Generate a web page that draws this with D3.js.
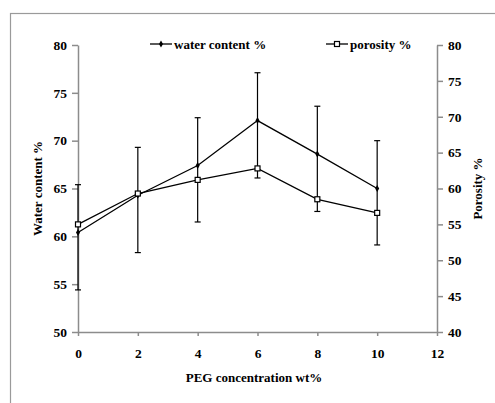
<!DOCTYPE html>
<html>
<head>
<meta charset="utf-8">
<script src="https://cdn.jsdelivr.net/npm/d3@7"></script>
<style>
body { margin: 0; background: #fff; }
text { font-family: "Liberation Serif", "Times New Roman", serif; font-weight: bold; fill: #000; }
</style>
</head>
<body>
<div id="chart"></div>
<script>
var W = 495, H = 403;
var margin = {top: 45, right: 58, bottom: 71, left: 78};
var width = W - margin.left - margin.right,
	height = H - margin.top - margin.bottom;

// data
var peg = [0, 2, 4, 6, 8, 10];
var water = [60.4, 64.3, 67.4, 72.1, 68.6, 65.0];
var waterErrUp = [5.0, 5.0, 5.0, 5.0, 5.0, 5.0];
var waterErrDown = [6.0, 6.0, 5.9, 6.0, 6.0, 5.9];
var porosity = [55.0, 59.3, 61.2, 62.8, 58.5, 56.6];

var xTicks = [0, 2, 4, 6, 8, 10, 12];
var leftTicks = [50, 55, 60, 65, 70, 75, 80];
var rightTicks = [40, 45, 50, 55, 60, 65, 70, 75, 80];

var svg = d3.select("#chart").append("svg")
	.attr("width", W)
	.attr("height", H);

// outer chart frame (runs off the right/bottom edge)
svg.append("rect")
	.attr("x", 10.5).attr("y", 13.5)
	.attr("width", 500).attr("height", 400)
	.attr("fill", "none")
	.attr("stroke", "#9a9a9a")
	.attr("stroke-width", 1.2);

var g = svg.append("g")
	.attr("transform", "translate(" + margin.left + "," + margin.top + ")");

var x = d3.scaleLinear().domain([0, 12]).range([0, width]);
var yL = d3.scaleLinear().domain([50, 80]).range([height, 0]);
var yR = d3.scaleLinear().domain([40, 80]).range([height, 0]);

function styleAxis(sel) {
	sel.selectAll("path, line").attr("stroke", "#8c8c8c").attr("stroke-width", 1.5);
	sel.selectAll("text").attr("font-size", 13.5).attr("font-family", "Liberation Serif, serif").attr("font-weight", "bold");
}

g.append("g")
	.attr("transform", "translate(0," + height + ")")
	.call(d3.axisBottom(x).tickValues(xTicks).tickSize(4).tickSizeOuter(0).tickPadding(12))
	.call(styleAxis);

g.append("g")
	.call(d3.axisLeft(yL).tickValues(leftTicks).tickSize(6).tickSizeOuter(0).tickPadding(5))
	.call(styleAxis);

g.append("g")
	.attr("transform", "translate(" + width + ",0)")
	.call(d3.axisRight(yR).tickValues(rightTicks).tickSize(6).tickSizeOuter(0).tickPadding(5))
	.call(styleAxis);

// error bars (water content)
var eb = g.append("g");
peg.forEach(function(p, i) {
	var cx = x(p);
	var top = yL(water[i] + waterErrUp[i]);
	var bot = yL(water[i] - waterErrDown[i]);
	eb.append("line").attr("x1", cx).attr("x2", cx).attr("y1", top).attr("y2", bot)
		.attr("stroke", "#000").attr("stroke-width", 1.2);
	[top, bot].forEach(function(yy) {
		eb.append("line").attr("x1", cx - 3).attr("x2", cx + 3).attr("y1", yy).attr("y2", yy)
			.attr("stroke", "#000").attr("stroke-width", 1.2);
	});
});

// lines
var waterLine = d3.line().x(function(d, i) { return x(peg[i]); }).y(function(d) { return yL(d); });
var porLine = d3.line().x(function(d, i) { return x(peg[i]); }).y(function(d) { return yR(d); });

g.append("path").datum(water).attr("d", waterLine)
	.attr("fill", "none").attr("stroke", "#000").attr("stroke-width", 1.3);
g.append("path").datum(porosity).attr("d", porLine)
	.attr("fill", "none").attr("stroke", "#000").attr("stroke-width", 1.3);

var diamond = d3.symbol().type(d3.symbolDiamond).size(14);

g.selectAll(".wpt").data(water).enter().append("path")
	.attr("transform", function(d, i) { return "translate(" + x(peg[i]) + "," + yL(d) + ")"; })
	.attr("d", diamond)
	.attr("fill", "#000");

g.selectAll(".ppt").data(porosity).enter().append("rect")
	.attr("x", function(d, i) { return x(peg[i]) - 2.5; })
	.attr("y", function(d) { return yR(d) - 2.5; })
	.attr("width", 5).attr("height", 5)
	.attr("fill", "#fff").attr("stroke", "#000").attr("stroke-width", 1.2);

// legend
var leg = svg.append("g");
leg.append("line").attr("x1", 150).attr("x2", 172).attr("y1", 44).attr("y2", 44)
	.attr("stroke", "#000").attr("stroke-width", 1.3);
leg.append("path").attr("transform", "translate(161,44)").attr("d", diamond).attr("fill", "#000");
leg.append("text").attr("x", 174).attr("y", 48.5).attr("font-size", 13).text("water content %");

leg.append("line").attr("x1", 326).attr("x2", 348).attr("y1", 44).attr("y2", 44)
	.attr("stroke", "#000").attr("stroke-width", 1.3);
leg.append("rect").attr("x", 334.5).attr("y", 41.5).attr("width", 5).attr("height", 5)
	.attr("fill", "#fff").attr("stroke", "#000").attr("stroke-width", 1.2);
leg.append("text").attr("x", 350).attr("y", 48.5).attr("font-size", 13).text("porosity %");

// axis titles
svg.append("text")
	.attr("transform", "translate(42," + (margin.top + height / 2) + ") rotate(-90)")
	.attr("text-anchor", "middle")
	.attr("font-size", 13)
	.text("Water content %");

svg.append("text")
	.attr("transform", "translate(482," + (margin.top + height / 2) + ") rotate(-90)")
	.attr("text-anchor", "middle")
	.attr("font-size", 13)
	.text("Porosity %");

svg.append("text")
	.attr("x", 254).attr("y", 382)
	.attr("text-anchor", "middle")
	.attr("font-size", 13)
	.text("PEG concentration wt%");
</script>
</body>
</html>
